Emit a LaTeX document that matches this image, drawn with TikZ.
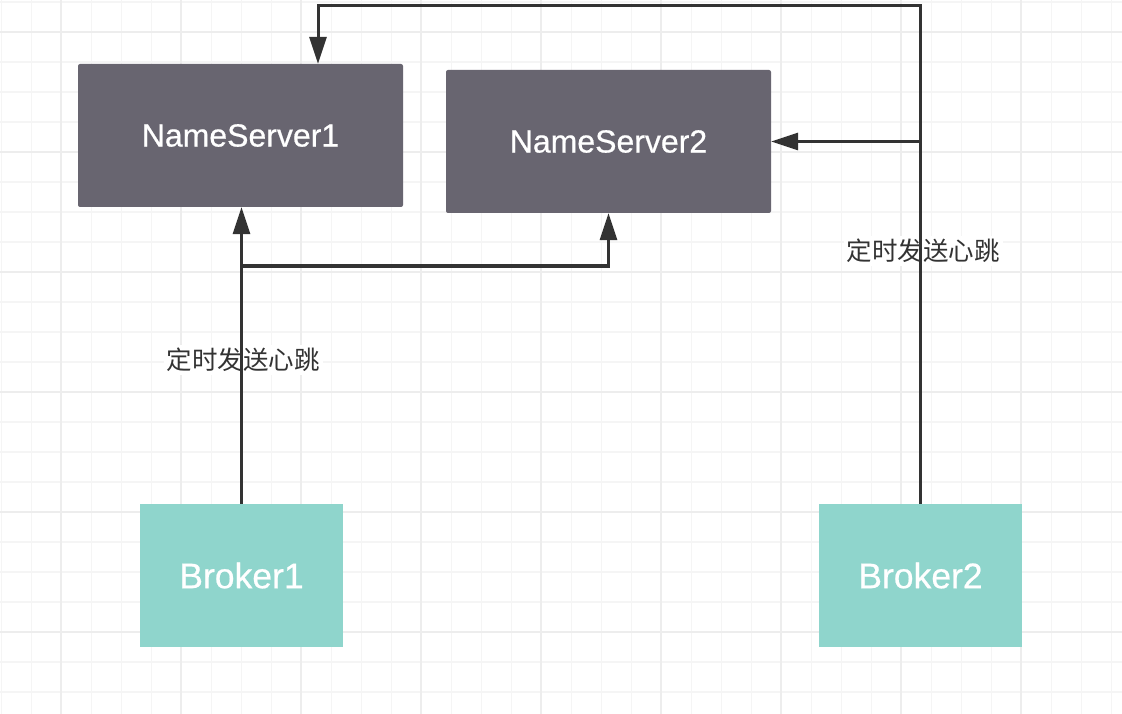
\documentclass[tikz,border=0pt]{standalone}
\usepackage{fontspec}
\setmainfont{Liberation Sans}
\newfontfamily\boxfont[FakeBold=0.6]{Liberation Sans}
\newfontfamily\cjk{Noto Sans CJK SC}
\usetikzlibrary{arrows.meta}

\definecolor{nsgray}{HTML}{686570}
\definecolor{brokercyan}{HTML}{8FD5CC}
\definecolor{linkgray}{HTML}{333333}
\definecolor{gridminor}{HTML}{F5F5F5}
\definecolor{gridmajor}{HTML}{EDEDED}

\tikzset{
  nsbox/.style={fill=nsgray, rounded corners=2pt, minimum width=325pt, minimum height=143pt,
    inner sep=0pt, text=white, font=\boxfont\fontsize{32}{38}\selectfont},
  brokerbox/.style={fill=brokercyan, minimum width=203pt, minimum height=143pt,
    inner sep=0pt, text=white, font=\boxfont\fontsize{35.5}{42}\selectfont},
  link/.style={draw=linkgray, line width=3pt, -{Triangle[length=27pt,width=17pt]}},
  beat/.style={fill=white, inner sep=3pt, text=linkgray, font=\cjk\fontsize{25.5}{30}\selectfont}
}

\begin{document}
\begin{tikzpicture}[x=1pt,y=-1pt]
\useasboundingbox[fill=white] (0,0) rectangle (1122,714);
% grid
\foreach \x in {1.5,31.5,...,1121.5} \draw[gridminor,line width=1.5pt] (\x,0) -- (\x,714);
\foreach \y in {2,32,...,712} \draw[gridminor,line width=1.5pt] (0,\y) -- (1122,\y);
\foreach \x in {61,181,...,1121} \draw[gridmajor,line width=1.5pt] (\x,0) -- (\x,714);
\foreach \y in {32,152,...,712} \draw[gridmajor,line width=1.5pt] (0,\y) -- (1122,\y);

\node[nsbox] (ns1) at (240.5,135.5) {NameServer1};
\node[nsbox] (ns2) at (608.5,141.5) {NameServer2};
\node[brokerbox] (b1) at (241.5,575.5) {Broker1};
\node[brokerbox] (b2) at (920.5,575.5) {Broker2};

\node[beat] (beat1) at (243,360) {定时发送心跳};
\node[beat] (beat2) at (923,251) {定时发送心跳};

\coordinate (split1) at (241.5,266);
\coordinate (top2) at (920.5,6);

\draw[link] (b1.north) -- (b1.north |- ns1.south);
\draw[link] (split1) -| (ns2.south);
\draw[link] (b2.north) -- (top2) -| ([xshift=77.5pt]ns1.north);
\draw[link] (b2.north |- ns2.east) -- (ns2.east);
\end{tikzpicture}
\end{document}
